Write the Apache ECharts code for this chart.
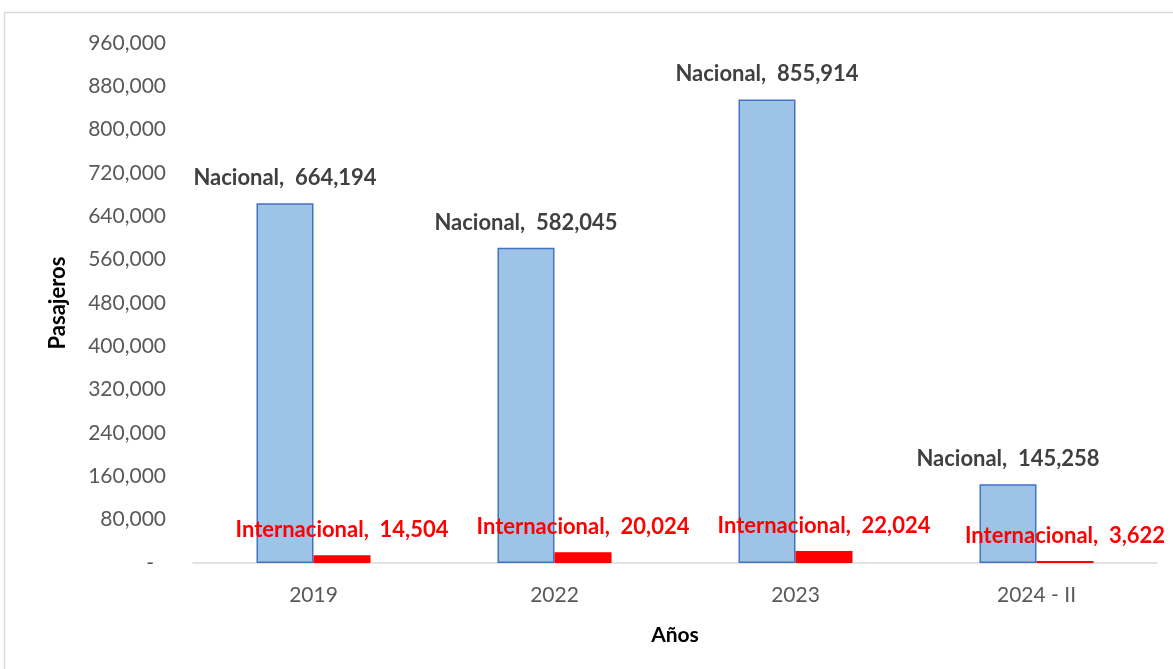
<!DOCTYPE html>
<html>
<head>
<meta charset="utf-8">
<script src="https://cdn.jsdelivr.net/npm/echarts@6/dist/echarts.min.js"></script>
<style>
  html, body { margin: 0; padding: 0; background: #ffffff; }
  #chart { width: 1173px; height: 669px; }
</style>
</head>
<body>
<div id="chart"></div>
<script>
// Passenger traffic by year, domestic vs international
const years = ['2019', '2022', '2023', '2024 - II'];
const nacional = [664194, 582045, 855914, 145258];
const internacional = [14504, 20024, 22024, 3622];
const yMin = 0;
const yMax = 960000;
const yStep = 80000;

const FONT = 'Lato, "Open Sans", sans-serif';
const fmt = v => v.toLocaleString('en-US');

const chart = echarts.init(document.getElementById('chart'), null, { renderer: 'canvas' });

chart.setOption({
  backgroundColor: '#ffffff',
  animation: false,
  graphic: [{
    type: 'rect',
    shape: { x: 4.5, y: 12.5, width: 1180, height: 670 },
    style: { fill: 'none', stroke: '#d9d9d9', lineWidth: 1.5 },
    z: -1
  }],
  grid: { left: 193, right: 16, top: 43, bottom: 106, containLabel: false },
  xAxis: {
    type: 'category',
    data: years,
    name: 'Años',
    nameLocation: 'middle',
    nameGap: 62,
    nameTextStyle: { fontFamily: FONT, fontSize: 21, fontWeight: 'bold', color: '#000000' },
    axisLine: { lineStyle: { color: '#d9d9d9', width: 1.5 } },
    axisTick: { show: false },
    axisLabel: { fontFamily: FONT, fontSize: 21, color: '#595959', margin: 22 }
  },
  yAxis: {
    type: 'value',
    min: yMin,
    max: yMax,
    interval: yStep,
    name: 'Pasajeros',
    nameLocation: 'middle',
    nameGap: 124,
    nameRotate: 90,
    nameTextStyle: { fontFamily: FONT, fontSize: 22, fontWeight: 'bold', color: '#000000' },
    axisLine: { show: false },
    axisTick: { show: false },
    splitLine: { show: false },
    axisLabel: {
      fontFamily: FONT, fontSize: 21, color: '#595959', margin: 27,
      formatter: v => v === 0 ? '{z|-}' : fmt(v),
      rich: { z: { fontFamily: FONT, fontSize: 21, color: '#595959', padding: [0, 12, 0, 0] } }
    }
  },
  series: [
    {
      name: 'Nacional',
      type: 'bar',
      data: nacional,
      barWidth: 57,
      barGap: '0%',
      itemStyle: { color: '#9dc3e6', borderColor: '#4472c4', borderWidth: 1.5 },
      label: {
        show: true,
        position: 'top',
        distance: 14,
        fontFamily: FONT,
        fontSize: 22,
        fontWeight: 'bold',
        color: '#404040',
        formatter: p => p.seriesName + ',  ' + fmt(p.value)
      }
    },
    {
      name: 'Internacional',
      type: 'bar',
      data: internacional,
      barWidth: 57,
      itemStyle: { color: '#ff0000' },
      label: {
        show: true,
        position: 'top',
        distance: 14,
        fontFamily: FONT,
        fontSize: 22,
        fontWeight: 'bold',
        color: '#ff0000',
        formatter: p => p.seriesName + ',  ' + fmt(p.value)
      }
    }
  ]
});
</script>
</body>
</html>
